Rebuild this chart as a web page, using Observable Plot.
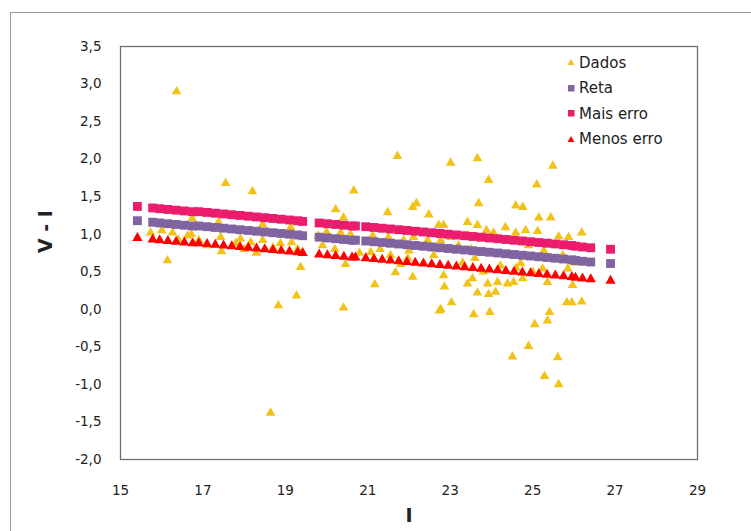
<!DOCTYPE html>
<html>
<head>
<meta charset="utf-8">
<script src="https://cdn.jsdelivr.net/npm/d3@7"></script>
<script src="https://cdn.jsdelivr.net/npm/@observablehq/plot@0.6"></script>
<style>
  html, body { margin: 0; padding: 0; background: #fff; }
  #wrap { position: relative; width: 751px; height: 531px; overflow: hidden; font-family: "DejaVu Sans", Verdana, sans-serif; }
  #border { position: absolute; left: 10px; top: 12px; width: 800px; height: 600px; border-top: 1px solid #9a9a9a; border-left: 1px solid #9a9a9a; }
  #chart { position: absolute; left: 0; top: 0; }
  #legend { position: absolute; left: 567px; top: 50px; font-size: 15px; color: #222; }
  #legend .row { height: 25.5px; display: flex; align-items: center; white-space: nowrap; }
  #legend svg { margin-right: 3px; }
</style>
</head>
<body>
<div id="wrap">
  <div id="border"></div>
  <div id="chart"></div>
  <div id="legend"></div>
</div>
<script>
// Dados (observed points): I and V - I
const dadosI = [
  15.73, 16.00, 16.26, 16.36, 16.63, 16.72, 16.14, 16.74, 17.38, 17.43, 17.45, 17.55, 17.91, 18.16, 18.20,
  18.45, 18.45, 18.88, 19.13, 19.15, 18.83, 19.27, 19.37, 18.64, 16.90, 17.10, 18.00, 18.70, 19.30,
  20.22, 20.41, 20.66, 20.46, 20.41, 21.17, 21.48, 21.72, 22.09, 22.18, 22.48, 21.67, 22.09, 22.74,
  19.80, 20.00, 20.34, 20.58, 21.12, 21.50, 21.87, 22.11, 22.45, 22.77, 21.07, 21.97, 21.55, 22.84, 22.72, 20.80,
  23.01, 23.66, 23.93, 25.49, 25.10, 23.69, 24.59, 24.76, 25.15, 25.44, 23.42, 23.66, 24.34, 24.59, 24.83,
  25.12, 26.19, 23.88, 24.05, 25.63, 25.87, 23.01, 22.84,
  22.86, 22.77, 23.03, 23.57, 23.96, 23.66, 23.93, 23.91, 24.15, 24.10, 23.42, 23.54, 24.39, 24.54, 24.76,
  25.05, 25.36, 25.41, 24.90, 24.51, 25.61, 25.29, 25.63, 25.83, 25.95, 26.19, 25.97, 25.36, 25.85,
  25.27, 25.73, 24.22, 24.71, 25.24, 23.20, 23.50, 24.00, 24.80, 23.30, 24.60, 25.00, 26.00,
  21.30, 22.00, 22.60, 23.60, 24.40, 25.40, 20.20, 19.90, 17.80, 16.40, 18.30, 21.80, 23.80, 24.90
];
const dadosV = [
  1.02, 1.05, 1.02, 2.90, 0.98, 1.00, 0.65, 1.21, 1.16, 0.96, 0.77, 1.68, 0.94, 0.89, 1.57,
  1.13, 0.92, 0.88, 1.09, 0.89, 0.05, 0.18, 0.56, -1.38, 0.92, 0.85, 0.80, 0.82, 0.80,
  1.33, 1.22, 1.58, 0.60, 0.02, 0.33, 1.29, 2.04, 1.36, 1.41, 1.26, 0.49, 0.43, -0.02,
  0.98, 1.03, 1.02, 1.00, 0.98, 0.96, 0.92, 0.96, 0.92, 0.92, 0.76, 0.68, 0.72, 0.45, 1.12, 0.75,
  1.95, 2.01, 1.72, 1.91, 1.66, 1.41, 1.38, 1.36, 1.22, 1.22, 1.16, 1.12, 1.09, 1.02, 1.05,
  1.04, 1.02, 1.05, 1.02, 0.97, 0.96, 0.96, 1.12,
  0.30, 0.00, 0.09, -0.07, -0.04, 0.22, 0.20, 0.34, 0.36, 0.23, 0.34, 0.41, 0.34, 0.36, 0.41,
  -0.20, -0.15, -0.04, -0.49, -0.63, -0.64, -0.89, -1.00, 0.09, 0.09, 0.10, 0.32, 0.36, 0.54,
  0.78, 0.72, 0.58, 0.61, 0.54, 0.85, 0.80, 0.75, 0.70, 0.62, 0.55, 0.50, 0.62,
  0.80, 0.78, 0.72, 0.68, 0.92, 0.88, 0.80, 0.85, 0.88, 0.93, 0.75, 0.60, 0.50, 0.85
];

// Fitted line (Reta) and error bands, at the I values of the fit markers
const fitI = [
  15.41, 15.78,
  15.95, 16.15, 16.35, 16.55, 16.75,
  16.90, 17.10, 17.30, 17.50, 17.70, 17.90, 18.10, 18.30, 18.50, 18.70, 18.90, 19.10, 19.30, 19.42,
  19.82, 20.02, 20.22, 20.42, 20.62, 20.70,
  20.95, 21.15, 21.35, 21.55, 21.75, 21.95, 22.15, 22.35, 22.55, 22.75, 22.95, 23.15, 23.35, 23.55,
  23.75, 23.95, 24.15, 24.35, 24.55, 24.75, 24.95, 25.15, 25.35, 25.55, 25.75, 25.95, 26.04,
  26.21, 26.41, 26.89
];
const reta = [
  1.18, 1.16, 1.15, 1.14, 1.13, 1.12, 1.11,
  1.11, 1.10, 1.09, 1.08, 1.07, 1.06, 1.05, 1.04, 1.03, 1.02, 1.01, 1.00, 0.99, 0.98,
  0.96, 0.95, 0.94, 0.93, 0.92, 0.92,
  0.91, 0.90, 0.89, 0.88, 0.87, 0.86, 0.85, 0.84, 0.83, 0.82, 0.81, 0.80, 0.79, 0.78,
  0.77, 0.76, 0.75, 0.74, 0.73, 0.72, 0.71, 0.70, 0.69, 0.68, 0.67, 0.66, 0.65,
  0.64, 0.63, 0.61
];
const maisErro = [
  1.37, 1.35, 1.34, 1.33, 1.32, 1.31, 1.30,
  1.30, 1.29, 1.28, 1.27, 1.26, 1.25, 1.24, 1.23, 1.22, 1.21, 1.20, 1.19, 1.18, 1.17,
  1.15, 1.14, 1.13, 1.12, 1.11, 1.11,
  1.10, 1.09, 1.08, 1.07, 1.06, 1.05, 1.04, 1.03, 1.02, 1.01, 1.00, 0.99, 0.98, 0.97,
  0.96, 0.95, 0.94, 0.93, 0.92, 0.91, 0.90, 0.89, 0.88, 0.87, 0.86, 0.85, 0.84,
  0.83, 0.82, 0.80
];
const menosErro = [
  0.95, 0.93, 0.92, 0.91, 0.90, 0.89, 0.88,
  0.88, 0.87, 0.86, 0.85, 0.84, 0.83, 0.82, 0.81, 0.80, 0.79, 0.78, 0.77, 0.76, 0.75,
  0.73, 0.72, 0.71, 0.70, 0.69, 0.69,
  0.68, 0.67, 0.66, 0.65, 0.64, 0.63, 0.62, 0.61, 0.60, 0.59, 0.58, 0.57, 0.56, 0.55,
  0.54, 0.53, 0.52, 0.51, 0.50, 0.49, 0.48, 0.47, 0.46, 0.45, 0.44, 0.43, 0.42,
  0.41, 0.40, 0.38
];

const xTicks = [15, 17, 19, 21, 23, 25, 27, 29];
const yTicks = [-2.0, -1.5, -1.0, -0.5, 0.0, 0.5, 1.0, 1.5, 2.0, 2.5, 3.0, 3.5];
const seriesNames = ["Dados", "Reta", "Mais erro", "Menos erro"];
const seriesColors = ["#F2C218", "#8064A2", "#EC1C6C", "#FF0000"];
const xTitle = "I";
const yTitle = "V - I";

const dados = dadosI.map((x, i) => ({x, y: dadosV[i]}));
const fitRows = fitI.map((x, i) => ({x, reta: reta[i], mais: maisErro[i], menos: menosErro[i]}));

const chart = Plot.plot({
  width: 751,
  height: 531,
  marginLeft: 120,
  marginRight: 54,
  marginTop: 46,
  marginBottom: 72,
  style: {fontFamily: "'DejaVu Sans', Verdana, sans-serif", background: "transparent", overflow: "visible"},
  x: {domain: [15, 29]},
  y: {domain: [-2, 3.5]},
  marks: [
    Plot.axisX({ticks: xTicks, tickSize: 0, tickPadding: 26, fontSize: 13.5, tickFormat: d => String(d), label: null, color: "#222"}),
    Plot.axisY({ticks: yTicks, tickSize: 0, tickPadding: 19, fontSize: 13.5, tickFormat: d => d.toFixed(1).replace(".", ","), label: null, color: "#222"}),
    Plot.dot(dados, {x: "x", y: "y", symbol: "triangle", r: 3.6, fill: seriesColors[0], stroke: "none"}),
    Plot.dot(fitRows, {x: "x", y: "reta", symbol: "square", r: 5, fill: seriesColors[1], stroke: "none"}),
    Plot.dot(fitRows, {x: "x", y: "mais", symbol: "square", r: 5, fill: seriesColors[2], stroke: "none"}),
    Plot.dot(fitRows, {x: "x", y: "menos", symbol: "triangle", r: 3.8, fill: seriesColors[3], stroke: "none"}),
    Plot.frame({stroke: "#6f6f6f", strokeWidth: 1.3}),
    Plot.text([yTitle], {frameAnchor: "left", dx: -75, rotate: -90, text: d => d, fontSize: 19, fontWeight: "bold", fill: "#222"}),
    Plot.text([xTitle], {frameAnchor: "bottom", dy: 62, text: d => d, fontSize: 19, fontWeight: "bold", fill: "#222"})
  ]
});
document.getElementById("chart").appendChild(chart);

// Legend
const legend = document.getElementById("legend");
seriesNames.forEach((name, i) => {
  const row = document.createElement("div");
  row.className = "row";
  const isTri = (i === 0 || i === 3);
  const shape = isTri
    ? `<polygon points="4,1 7.5,7 0.5,7" fill="${seriesColors[i]}"/>`
    : `<rect x="1" y="1" width="6.5" height="6.5" fill="${seriesColors[i]}"/>`;
  row.innerHTML = `<svg width="9" height="9">${shape}</svg><span>${name}</span>`;
  legend.appendChild(row);
});
</script>
</body>
</html>
